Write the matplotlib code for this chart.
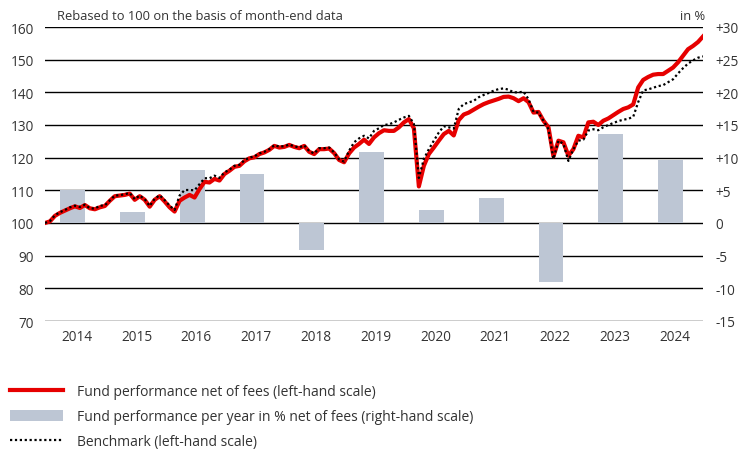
import matplotlib
matplotlib.use("Agg")
import matplotlib.pyplot as plt
import numpy as np
from matplotlib.lines import Line2D
from matplotlib.patches import Patch

plt.rcParams["font.family"] = ["Open Sans", "DejaVu Sans"]

# month-end values, Dec 2013 .. Dec 2024, rebased to 100
fund = [
    100.0, 100.5, 102.2, 103.1, 103.8, 104.5, 105.1, 104.6, 105.5, 104.5, 104.2, 104.8,
    105.2, 106.8, 108.2, 108.4, 108.6, 109.0, 107.1, 108.2, 107.1, 105.0, 107.1, 108.2,
    106.6, 104.8, 103.5, 106.8, 107.8, 108.6, 107.8, 110.4, 112.6, 112.4, 113.5, 113.0,
    115.0, 116.0, 117.2, 117.5, 118.9, 119.8, 120.1, 121.1, 121.6, 122.4, 123.6, 123.1,
    123.3, 123.9, 123.3, 122.9, 123.6, 121.8, 121.1, 122.6, 122.6, 122.8, 121.4, 119.3,
    118.6, 121.3, 123.1, 124.2, 125.5, 124.2, 126.2, 127.5, 128.4, 128.2, 128.2, 129.3,
    130.8, 131.8, 129.0, 111.2, 117.5, 121.1, 123.1, 125.2, 127.2, 128.2, 126.8, 131.5,
    133.2, 133.8, 134.7, 135.6, 136.4, 137.0, 137.5, 138.0, 138.6, 138.7, 138.2, 137.3,
    138.2, 137.0, 133.8, 134.0, 131.3, 129.3, 120.4, 125.2, 124.7, 120.6, 122.6, 126.7,
    126.2, 130.8, 131.0, 130.0, 131.3, 132.0, 133.0, 134.0, 134.9, 135.4, 136.3, 141.5,
    143.8, 144.7, 145.4, 145.6, 145.6, 146.6, 147.6, 149.2, 151.2, 153.2, 154.2, 155.4,
    157.1,
]
benchmark = [
    100.0, 100.6, 102.4, 103.3, 104.0, 104.8, 105.3, 104.9, 105.6, 104.5, 104.4, 105.3,
    105.4, 106.9, 108.4, 108.5, 108.8, 109.2, 107.3, 108.4, 107.3, 105.2, 107.4, 108.5,
    107.0, 105.3, 104.0, 108.4, 110.1, 110.1, 110.0, 111.9, 113.7, 113.7, 114.5, 113.8,
    115.5, 116.3, 117.5, 117.8, 119.2, 120.0, 120.4, 121.3, 121.8, 122.6, 123.8, 123.4,
    123.5, 124.0, 123.5, 123.1, 123.8, 122.0, 121.3, 122.9, 122.9, 123.1, 121.6, 119.5,
    118.8, 122.1, 124.7, 125.9, 126.7, 125.9, 128.2, 129.0, 130.0, 130.2, 130.8, 131.6,
    132.3, 132.8, 130.3, 113.8, 119.6, 122.6, 125.2, 127.7, 129.6, 129.3, 128.9, 134.9,
    136.4, 136.9, 137.4, 138.5, 139.2, 139.8, 140.5, 141.0, 141.2, 140.8, 140.0, 140.0,
    140.2, 137.9, 134.0, 133.8, 131.3, 128.7, 119.6, 125.2, 124.2, 119.0, 122.6, 125.2,
    125.5, 128.3, 128.7, 128.4, 129.3, 130.0, 130.6, 131.2, 131.6, 131.9, 132.5, 137.0,
    140.6, 140.9, 141.4, 141.9, 142.2, 143.1, 144.0, 145.8, 147.4, 148.8, 149.8, 150.6,
    151.0,
]
years = [2014, 2015, 2016, 2017, 2018, 2019, 2020, 2021, 2022, 2023, 2024]
yearly_pct = [5.0, 1.7, 8.1, 7.5, -4.2, 10.9, 2.0, 3.8, -9.1, 13.6, 9.7]

left_ticks = [70, 80, 90, 100, 110, 120, 130, 140, 150, 160]
right_ticks = [-15, -10, -5, 0, 5, 10, 15, 20, 25, 30]
right_labels = ["-15", "-10", "-5", "0", "+5", "+10", "+15", "+20", "+25", "+30"]

RED = "#e60000"
BAR = "#bdc6d4"
TXT = "#333333"

W, H = 748, 452
fig = plt.figure(figsize=(W / 100, H / 100), dpi=100)
ax = fig.add_axes([45 / W, 1 - 322 / H, (703 - 45) / W, (322 - 28) / H])
ax2 = ax.twinx()

t = 2014 + np.arange(len(fund)) / 12
yr = np.array(years)

# bars on the right-hand scale, behind everything
ax2.bar(yr + 0.46, yearly_pct, width=0.415, color=BAR, zorder=2)
ax2.set_ylim(-15, 30)
ax2.set_yticks(right_ticks)
ax2.set_yticklabels(right_labels)
ax2.yaxis.grid(True, color="black", linewidth=1.0, zorder=1)
ax2.set_axisbelow(True)

# lines on the left-hand scale, drawn on top
ax.set_zorder(ax2.get_zorder() + 1)
ax.patch.set_visible(False)
ax.plot(t, fund, color=RED, linewidth=3.0, solid_joinstyle="round", zorder=3)
ax.plot(t, benchmark, color="black", linewidth=1.6, linestyle=(0, (1, 1.2)), zorder=4)
ax.set_ylim(70, 160)
ax.set_yticks(left_ticks)
ax.set_xlim(2014.0, 2025.0)
ax.set_xticks(yr + 0.53)
ax.set_xticklabels([str(y) for y in years])

for a in (ax, ax2):
    for s in a.spines.values():
        s.set_visible(False)
    a.tick_params(length=0, labelsize=9.8, colors=TXT)
ax.tick_params(axis="y", pad=8)
ax.tick_params(axis="x", pad=6)
ax2.tick_params(axis="y", pad=9)

fig.text(57 / W, 1 - 16 / H, "Rebased to 100 on the basis of month-end data",
         fontsize=9.3, color=TXT, va="center", ha="left")
fig.text(705 / W, 1 - 16 / H, "in %", fontsize=9.3, color=TXT, va="center", ha="right")

handles = [
    Line2D([], [], color=RED, linewidth=3.0),
    Patch(facecolor=BAR, edgecolor="none"),
    Line2D([], [], color="black", linewidth=1.6, linestyle=(0, (1, 1.2))),
]
labels = [
    "Fund performance net of fees (left-hand scale)",
    "Fund performance per year in % net of fees (right-hand scale)",
    "Benchmark (left-hand scale)",
]
leg = fig.legend(handles, labels, loc="upper left", bbox_to_anchor=(10 / W, 1 - 385 / H),
                 frameon=False, fontsize=10, handlelength=3.8, handleheight=0.85,
                 handletextpad=1.0, labelspacing=0.72, borderaxespad=0, borderpad=0)
for txt in leg.get_texts():
    txt.set_color(TXT)

fig.savefig("out.png", dpi=100)
